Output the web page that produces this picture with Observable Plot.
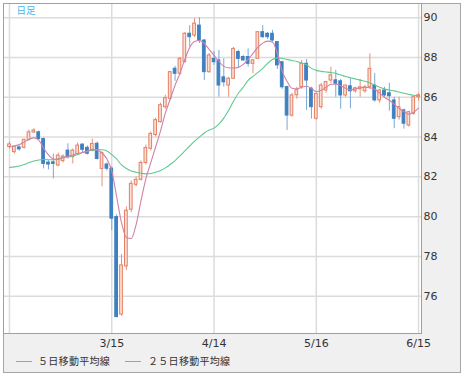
<!DOCTYPE html>
<html><head><meta charset="utf-8">
<script src="https://cdn.jsdelivr.net/npm/d3@7"></script>
<script src="https://cdn.jsdelivr.net/npm/@observablehq/plot@0.6"></script>
<style>
body{margin:0;background:#fff;}
#wrap{position:relative;width:466px;height:377px;overflow:hidden;background:#fff;}
#bg{position:absolute;left:3px;top:3px;width:456px;height:368px;background:#f0f0f0;border:1px solid #a5a5a5;}
#chart{position:absolute;left:0;top:0;}
#legend{position:absolute;left:0;top:352px;width:466px;height:20px;font-family:"Noto Sans CJK JP";font-size:10px;color:#333;}
.ln{position:absolute;top:9px;width:16px;height:0;border-top:1px solid;}
.tx{position:absolute;top:3px;line-height:12px;letter-spacing:0.3px;white-space:nowrap;}
</style></head>
<body>
<div id="wrap"><div id="bg"></div><div id="chart"></div>
<div id="legend">
<div class="ln" style="left:16px;border-color:#d18aa8"></div><span class="tx" style="left:38px">５日移動平均線</span>
<div class="ln" style="left:125px;border-color:#5ec98f"></div><span class="tx" style="left:148px">２５日移動平均線</span>
</div></div>
<script>
// daily candles, index 0 .. 84
const openV = [83.5,83.24,83.48,83.46,83.86,84.23,84.24,83.9,82.72,82.73,82.57,82.79,83.32,82.99,83.15,83.62,83.46,83.3,83.66,82.4,82.62,82.41,79.98,75.08,77.5,80.35,81.6,81.85,82.7,83.41,84.1,84.75,85.5,85.92,87.43,87.18,87.77,89.19,89.1,89.6,88.85,87.26,87.93,87.85,87.0,86.59,86.93,88.27,88.02,88.02,87.68,87.93,89.27,89.19,89.19,88.77,87.76,86.51,85.08,86.1,86.51,87.68,86.43,84.92,85.5,86.34,86.84,86.85,86.8,86.09,86.55,86.3,86.4,86.3,86.5,86.59,85.84,86.34,86.2,85.84,85.0,85.34,84.58,85.17,86.0];
const highV = [83.75,83.55,83.55,83.9,84.35,84.42,84.3,83.95,82.82,83.15,83.2,83.1,83.66,83.4,83.7,83.66,83.55,83.9,83.75,83.25,82.7,82.5,80.1,78.1,80.5,81.8,82.0,82.8,83.6,84.25,84.95,85.7,86.1,87.3,87.55,88.0,89.25,89.6,89.95,90.0,88.9,88.2,88.3,88.35,87.93,87.0,88.5,88.35,88.1,88.43,87.9,89.3,89.6,89.25,89.36,88.8,87.8,86.55,86.2,86.5,87.85,87.9,86.5,86.2,86.7,86.8,87.51,87.35,86.9,86.6,86.93,86.5,86.9,86.6,88.18,87.2,86.4,86.5,86.7,86.0,86.0,85.4,85.3,86.05,86.2];
const lowV = [83.4,83.15,83.3,83.4,83.8,84.18,83.85,82.4,82.35,81.9,82.5,82.7,82.9,82.65,83.1,83.2,83.1,83.25,82.85,81.5,82.3,79.3,74.95,75.0,77.3,80.2,81.5,81.8,82.6,83.3,84.0,84.7,85.4,85.85,86.8,87.1,87.7,88.52,89.0,88.7,86.84,87.2,87.6,86.0,86.51,86.0,86.9,87.5,87.8,87.51,87.18,87.9,88.95,88.9,88.77,87.4,86.4,84.33,85.0,85.9,86.4,85.34,84.9,84.85,85.4,86.2,86.7,86.0,85.4,86.0,85.42,86.2,86.0,86.2,86.4,85.76,85.7,86.0,85.3,84.42,84.85,84.4,84.5,85.1,85.8];
const closeV = [83.63,83.52,83.38,83.86,84.24,84.33,83.9,82.65,82.62,82.65,83.07,83.02,82.99,83.32,83.57,83.36,83.16,83.65,82.9,83.2,82.41,79.9,74.95,77.55,80.3,81.65,81.85,82.7,83.45,84.16,84.85,85.6,85.95,87.26,87.18,87.93,89.19,89.02,89.7,88.85,87.26,88.1,87.76,86.59,86.75,86.93,88.43,87.93,87.85,87.68,87.85,89.27,89.02,89.02,88.85,87.6,86.5,85.08,86.09,86.35,87.68,86.84,85.5,86.17,86.59,86.76,87.1,86.68,86.09,86.59,86.3,86.45,86.5,86.5,87.43,85.84,86.34,86.09,86.05,84.92,85.5,84.67,85.25,86.0,86.1];
// moving averages
const ma5 = [83.5,83.55,83.62,83.75,83.88,83.96,83.85,83.45,83.1,82.9,82.88,82.98,83.03,83.1,83.17,83.22,83.28,83.38,83.35,83.2,82.9,82.3,81.0,79.7,78.95,78.9,79.6,80.8,81.9,82.7,83.5,84.3,85.2,85.9,86.6,87.2,87.9,88.5,88.8,88.85,88.7,88.4,88.1,87.8,87.55,87.48,87.47,87.5,87.65,87.9,88.2,88.5,88.72,88.82,88.78,88.2,87.3,86.8,86.45,86.42,86.5,86.55,86.45,86.28,86.35,86.5,86.65,86.65,86.58,86.45,86.38,86.42,86.48,86.5,86.48,86.4,86.2,86.0,85.85,85.65,85.45,85.28,85.15,85.25,85.45];
const ma25 = [82.47,82.5,82.55,82.62,82.72,82.8,82.85,82.87,82.86,82.86,82.9,82.96,83.0,83.05,83.12,83.22,83.3,83.34,83.36,83.36,83.3,83.12,82.9,82.6,82.42,82.3,82.23,82.18,82.15,82.17,82.23,82.32,82.45,82.62,82.82,83.05,83.3,83.55,83.8,84.0,84.2,84.35,84.45,84.65,84.95,85.35,85.8,86.2,86.5,86.85,87.05,87.25,87.45,87.7,87.9,87.98,87.95,87.9,87.85,87.8,87.72,87.63,87.45,87.35,87.3,87.27,87.24,87.2,87.12,87.04,86.98,86.92,86.86,86.8,86.72,86.62,86.5,86.42,86.36,86.32,86.26,86.2,86.15,86.1,86.08];
const xTickIdx = [21, 42, 63, 84];
const xTickLabels = ["3/15", "4/14", "5/16", "6/15"];
const xGridIdx = [0, 21, 42, 63, 84];
const yTicks = [76, 78, 80, 82, 84, 86, 88, 90];

const candles = openV.map((o, i) => ({i, open: o, high: highV[i], low: lowV[i], close: closeV[i], up: closeV[i] >= o}));
const ma5Data = ma5.map((v, i) => ({i, v}));
const ma25Data = ma25.map((v, i) => ({i, v}));
const xTicks = xTickIdx.map((i, k) => ({i, label: xTickLabels[k]}));

const X0 = -1.232, X1 = 84.6, Y0 = 74.13, Y1 = 90.71;
const chart = Plot.plot({
  width: 466, height: 352,
  marginLeft: 3, marginRight: 45, marginTop: 3, marginBottom: 19,
  x: {domain: [X0, X1], axis: null},
  y: {domain: [Y0, Y1], axis: null},
  style: {background: "transparent", fontFamily: "DejaVu Sans", overflow: "visible"},
  marks: [
    Plot.frame({fill: "white"}),
    Plot.ruleY(yTicks, {stroke: "#dcdcdc", strokeWidth: 1.5}),
    Plot.ruleX(xGridIdx, {stroke: "#dcdcdc", strokeWidth: 1.5}),
    Plot.ruleX(candles, {x: "i", y1: "low", y2: "high", stroke: d => d.up ? "#e8907a" : "#79a8d4", strokeWidth: 1}),
    Plot.rect(candles, {x1: d => d.i - 0.28, x2: d => d.i + 0.28, y1: "open", y2: "close",
      fill: d => d.up ? "#fbe0d8" : "#3f80c2", stroke: d => d.up ? "#e47f63" : "#3f80c2", strokeWidth: 1}),
    Plot.line(ma25Data, {x: "i", y: "v", stroke: "#5ec98f", strokeWidth: 1.1, curve: "monotone-x"}),
    Plot.line(ma5Data, {x: "i", y: "v", stroke: "#cf82a6", strokeWidth: 1.1, curve: "monotone-x"}),
    Plot.frame({stroke: "#a0a0a0"}),
    Plot.text(yTicks, {x: X1, y: d => d, text: d => String(d), textAnchor: "start", dx: 2, fontSize: 11, fill: "#333"}),
    Plot.text(xTicks, {x: "i", y: Y0, text: "label", dy: 10, fontSize: 11, fill: "#333"}),
    Plot.text(["日足"], {frameAnchor: "top-left", dx: 13, dy: 4, lineAnchor: "top", textAnchor: "start", fontSize: 9.5, fill: "#45b5e6", fontFamily: "Noto Sans CJK JP"})
  ]
});
document.getElementById("chart").appendChild(chart);
</script>
</body></html>
